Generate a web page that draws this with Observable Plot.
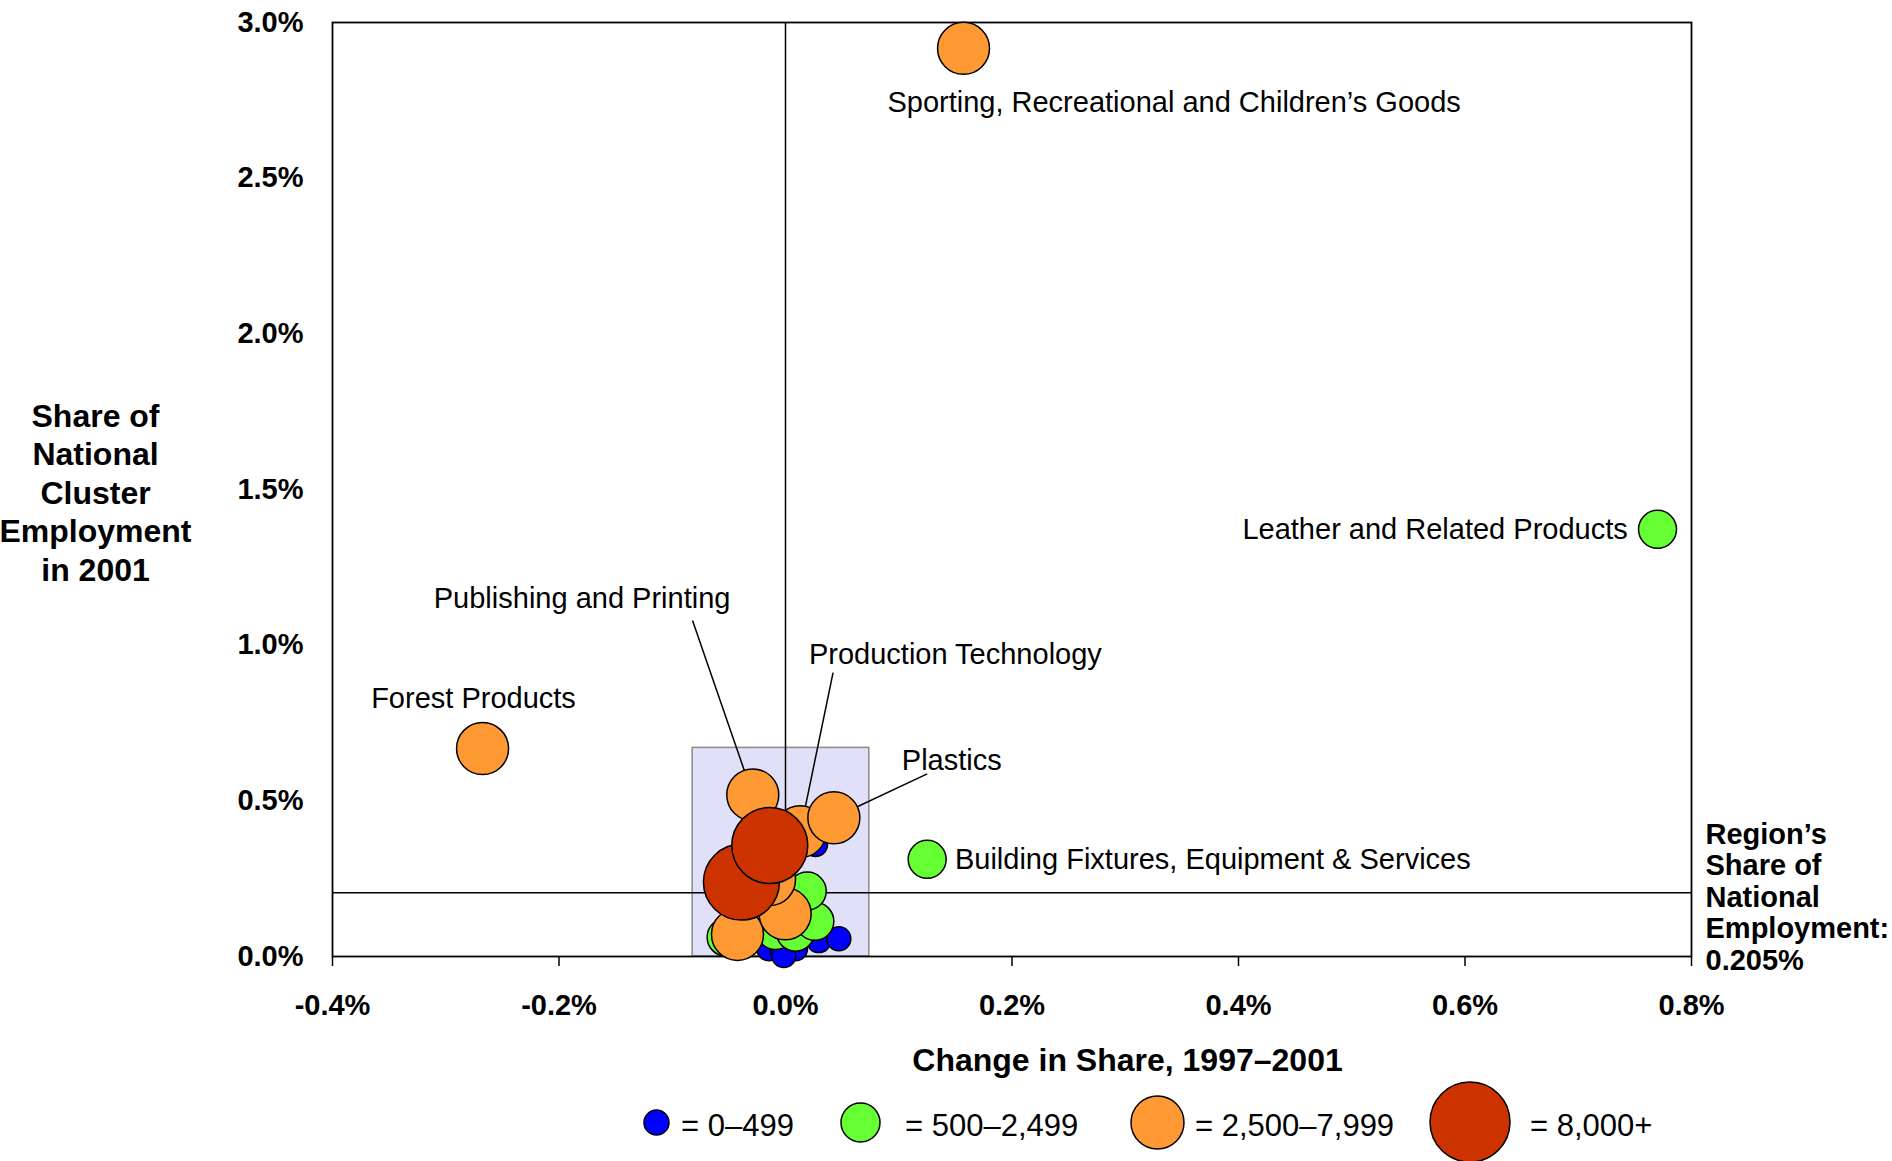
<!DOCTYPE html>
<html>
<head>
<meta charset="utf-8">
<script src="https://cdn.jsdelivr.net/npm/d3@7"></script>
<script src="https://cdn.jsdelivr.net/npm/@observablehq/plot@0.6"></script>
<style>
  body { margin: 0; background: #fff; font-family: "Liberation Sans", Arial, sans-serif; }
  #legend { position: relative; width: 1892px; height: 76px; }
  #legend .sw { position: absolute; }
  #legend .lb { position: absolute; font-size: 31px; line-height: 31px; color: #000; white-space: nowrap; }
</style>
</head>
<body>
<div id="chart"></div>
<div id="legend"></div>
<script>
// ---------------- data ----------------
// Size classes of cluster employment
const sizeClassLabels = ["0–499", "500–2,499", "2,500–7,999", "8,000+"];
// Clusters (null = unlabeled cluster)
const clusterNames = [
  null, null, null, null, null, null, null,
  null, null, null, null, null,
  "Leather and Related Products", "Building Fixtures, Equipment & Services",
  null, null, null,
  "Production Technology", "Plastics", "Publishing and Printing",
  "Forest Products", "Sporting, Recreational and Children’s Goods",
  null, null
];
// Change in share 1997–2001 (%)
const changeInShare = [
  0.0265, -0.0147, -0.0029, 0.0088, -0.0015, 0.0294, 0.0471,
  -0.0524, -0.0088, 0.0088, 0.0259, 0.0192,
  0.770, 0.1251,
  -0.0424, -0.0003, -0.0141,
  0.0130, 0.0427, -0.0289,
  -0.2675, 0.1572,
  -0.0389, -0.0139
];
// Share of national cluster employment in 2001 (%)
const shareOfNational = [
  0.360, 0.025, 0.019, 0.025, 0.003, 0.051, 0.057,
  0.062, 0.0835, 0.078, 0.113, 0.210,
  1.372, 0.312,
  0.071, 0.137, 0.247,
  0.401, 0.4455, 0.519,
  0.668, 2.917,
  0.239, 0.3565
];
// Employment size class index (into sizeClassLabels)
const sizeClass = [
  0, 0, 0, 0, 0, 0, 0,
  1, 1, 1, 1, 1,
  1, 1,
  2, 2, 2,
  2, 2, 2,
  2, 2,
  3, 3
];
const xTicks = [-0.4, -0.2, 0.0, 0.2, 0.4, 0.6, 0.8];
const yTicks = [0.0, 0.5, 1.0, 1.5, 2.0, 2.5, 3.0];
const regionShare = 0.205;
const xTitle = "Change in Share, 1997–2001";
const yTitle = "Share of\nNational\nCluster\nEmployment\nin 2001";
const refTitle = "Region’s\nShare of\nNational\nEmployment:\n0.205%";
// Highlighted zoom region (data units)
const zoomBox = [{x1: -0.082, x2: 0.074, y1: 0, y2: 0.670}];

// Annotation placement (data units)
const labelNames = ["Sporting, Recreational and Children’s Goods", "Leather and Related Products",
  "Forest Products", "Building Fixtures, Equipment & Services",
  "Publishing and Printing", "Production Technology", "Plastics"];
const labelX = [0.0900, 0.7437, -0.2755, 0.1496, -0.1796, 0.0207, 0.1027];
const labelY = [2.742, 1.372, 0.827, 0.312, 1.148, 0.968, 0.630];
const labelAnchor = ["start", "end", "middle", "start", "middle", "start", "start"];
const leaderX = [null, null, null, null, -0.0821, 0.0420, 0.1251];
const leaderY = [null, null, null, null, 1.079, 0.912, 0.5865];

// ---------------- styles ----------------
const classColors = ["#0000FF", "#66FF33", "#FF9933", "#CC3300"];
const classRadius = [12, 19, 26, 38];
const FONT = "'Liberation Sans', Arial, sans-serif";

// ---------------- build ----------------
const points = clusterNames.map((name, i) => ({
  name, x: changeInShare[i], y: shareOfNational[i], cls: sizeClass[i]
}));
const byName = new Map(points.filter(d => d.name).map(d => [d.name, d]));
const labels = labelNames.map((name, i) => ({
  name, x: labelX[i], y: labelY[i], anchor: labelAnchor[i],
  lx: leaderX[i], ly: leaderY[i], target: byName.get(name)
}));
const leaders = labels.filter(d => d.lx != null);
const labelMark = anchor => Plot.text(labels.filter(d => d.anchor === anchor),
  {x: "x", y: "y", text: "name", textAnchor: anchor, fontSize: 29, fill: "#000"});

const chart = Plot.plot({
  width: 1892,
  height: 1085,
  marginLeft: 332,
  marginRight: 201,
  marginTop: 22,
  marginBottom: 129,
  style: {fontFamily: FONT, fontSize: "28px", color: "#000", background: "#fff"},
  x: {domain: [-0.4, 0.8]},
  y: {domain: [0, 3.0]},
  r: {type: "identity"},
  color: {domain: sizeClassLabels, range: classColors},
  marks: [
    Plot.rect(zoomBox, {x1: "x1", x2: "x2", y1: "y1", y2: "y2", fill: "#E0E0F8", stroke: "#8a8a8a", strokeWidth: 1.5}),
    Plot.ruleX([0], {y1: 0, y2: 3.0, stroke: "#000", strokeWidth: 1.5}),
    Plot.ruleY([regionShare], {x1: -0.4, x2: 0.8, stroke: "#000", strokeWidth: 1.5}),
    Plot.frame({stroke: "#000", strokeWidth: 1.8}),
    Plot.axisX(xTicks, {
      ticks: xTicks, tickSize: 10, tickPadding: 28, tickFormat: d => d.toFixed(1) + "%",
      fontWeight: "bold", fontSize: 29, strokeWidth: 1.5, label: null
    }),
    Plot.axisY(yTicks, {
      ticks: yTicks, tickSize: 0, tickPadding: 29, tickFormat: d => d.toFixed(1) + "%",
      fontWeight: "bold", fontSize: 29, label: null
    }),
    Plot.link(leaders, {x1: "lx", y1: "ly", x2: d => d.target.x, y2: d => d.target.y, stroke: "#000", strokeWidth: 1.5}),
    Plot.dot(points, {
      x: "x", y: "y", r: d => classRadius[d.cls], fill: d => sizeClassLabels[d.cls],
      stroke: "#000", strokeWidth: 1.5, sort: null
    }),
    labelMark("start"),
    labelMark("middle"),
    labelMark("end"),
    Plot.text([yTitle], {text: d => d, frameAnchor: "left", dx: -237, dy: 2, textAnchor: "middle",
      fontWeight: "bold", fontSize: 32, lineHeight: 1.206}),
    Plot.text([refTitle], {text: d => d, frameAnchor: "right", y: () => regionShare, dx: 14, dy: 4, textAnchor: "start",
      fontWeight: "bold", fontSize: 29, lineHeight: 1.09}),
    Plot.text([xTitle], {text: d => d, x: () => 0.302, frameAnchor: "bottom", dy: 114,
      fontWeight: "bold", fontSize: 32})
  ]
});
document.getElementById("chart").appendChild(chart);

// ---------------- legend ----------------
const legend = d3.select("#legend");
const legendCx = [656, 860, 1157, 1470];
const legendTextX = [681, 905, 1195, 1530];
const midY = 37;
sizeClassLabels.forEach((lab, i) => {
  const r = classRadius[i] === 38 ? 40 : classRadius[i] + 0.5;
  const svg = legend.append("svg").attr("class", "sw")
    .attr("width", 2 * r + 4).attr("height", 2 * r + 4)
    .style("left", (legendCx[i] - r - 2) + "px").style("top", (midY - r - 2) + "px");
  svg.append("circle").attr("cx", r + 2).attr("cy", r + 2).attr("r", r)
    .attr("fill", classColors[i]).attr("stroke", "#000").attr("stroke-width", 1.5);
  legend.append("div").attr("class", "lb")
    .style("left", legendTextX[i] + "px").style("top", (midY - 12) + "px")
    .text("= " + lab);
});
</script>
</body>
</html>
